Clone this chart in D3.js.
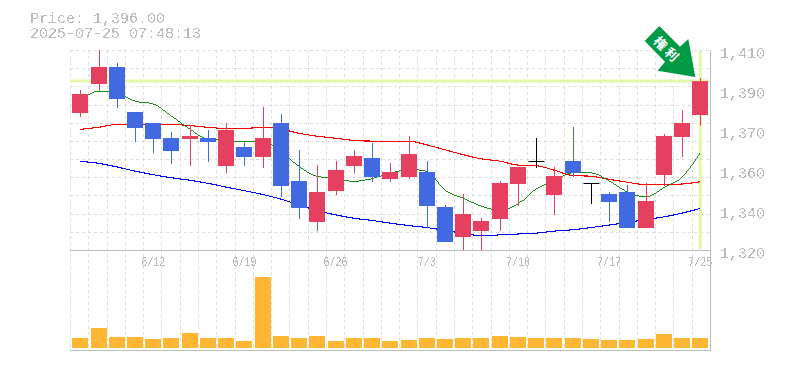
<!DOCTYPE html>
<html><head><meta charset="utf-8">
<script src="https://cdnjs.cloudflare.com/ajax/libs/d3/7.8.5/d3.min.js"></script>
<style>html,body{margin:0;padding:0;background:#fff}svg{display:block}text{font-family:"Liberation Mono",monospace}</style>
</head><body><svg id="c" width="785" height="370"></svg>
<script>
const priceText="Price: 1,396.00", timeText="2025-07-25 07:48:13";
const lastClose=1396;
const yTicks=[1320,1338,1356,1374,1392,1410];
const yTickLabels=["1,320","1,340","1,360","1,370","1,390","1,410"];
const dateIdx=[4,9,14,19,24,29,34];
const dateLabels=["6/12","6/19","6/26","7/3","7/10","7/17","7/25"];
const arrowChars=["権","利"];
const open=[1381.65,1394.7,1402.35,1382.1,1377.15,1370.4,1369.95,1370.4,1357.8,1366.35,1361.85,1377.15,1351.05,1332.6,1346.55,1357.8,1361.4,1351.95,1352.85,1355.1,1339.35,1325.85,1328.55,1333.95,1349.7,1360.05,1344.75,1360.05,1350.15,1345.2,1346.1,1329.9,1353.75,1370.85,1380.75];
const close=[1390.2,1402.35,1387.95,1374.9,1369.95,1364.55,1371.3,1368.6,1374,1361.85,1370.4,1348.8,1338.9,1346.1,1356,1362.3,1352.85,1355.1,1363.2,1339.8,1323.6,1336.2,1333.05,1350.15,1357.35,1360.05,1353.3,1354.65,1350.15,1341.6,1329.9,1342.05,1371.3,1377.15,1396];
const high=[1392,1410,1404.15,1382.1,1377.15,1373.1,1376.25,1374,1377.15,1368.6,1384.35,1381.2,1365,1358.25,1360.05,1365,1368.15,1359.15,1371.3,1360.05,1340.25,1345.2,1334.4,1351.05,1357.35,1370.4,1357.35,1375.35,1350.15,1346.1,1349.25,1350.15,1372.2,1383,1397.4];
const low=[1379.85,1391.55,1383.9,1368.6,1363.65,1358.7,1357.8,1359.6,1354.65,1357.8,1356.9,1343.85,1333.95,1328.55,1344.75,1354.65,1350.6,1350.6,1351.95,1329.9,1323.6,1320,1320,1328.55,1339.8,1356.9,1335.75,1352.85,1340.7,1332.6,1329.9,1329.9,1348.8,1361.85,1375.8];
const ma5=[1387,1391.5,1390.6,1387,1385.7,1380.3,1374.4,1369.9,1369.4,1368.6,1369,1364.1,1357.6,1353.1,1352.2,1350.9,1352.2,1354.5,1356.3,1355.4,1346.9,1343.3,1339.7,1337.9,1340.8,1347.5,1351.1,1354.7,1354.7,1351.1,1346.1,1343.9,1348,1352.9,1363.7];
const ma25=[1374.3,1375.2,1376.5,1376.5,1376.5,1376.5,1376,1375.2,1374.7,1374.7,1375.2,1374.4,1372.5,1371.2,1370.3,1369.3,1369,1369,1369,1367.3,1365.1,1362.9,1361,1360,1358.2,1357.9,1355.9,1353.5,1353.2,1351.8,1350.5,1349.4,1349.4,1349.7,1350.7];
const ma75=[1359.9,1359,1357.4,1355.5,1353.9,1352.5,1351.4,1350,1348.3,1346.7,1345,1342.9,1340.3,1337.7,1335.8,1334.3,1333.3,1332.1,1331,1330.1,1328.8,1327.5,1326.4,1326.8,1327.2,1327.6,1328.5,1329.1,1330.1,1331.2,1332.4,1333.7,1334.9,1336.6,1338.7];
const volume=[10,20,11,11,9,10,15,10,10,7,71,12,10,12,7,10,10,7,8,10,9,10,10,12,11,10,10,10,9,8,8,9,14,10,10];
const gridYCount=11, gridXCount=35;

const svg=d3.select("#c");
const x=d3.scalePoint().domain(d3.range(open.length)).range([80.3,700.3]);
const y=d3.scaleLinear().domain([1320,1410]).range([250,50]);
const yv=d3.scaleLinear().domain([0,100]).range([348,248]);
const gx=d3.scaleLinear().domain([0,gridXCount]).range([70,710]);

const f=svg.append("defs").append("filter").attr("id","crisp").attr("x","-5%").attr("y","-20%").attr("width","110%").attr("height","140%");
f.append("feComponentTransfer").append("feFuncA").attr("type","discrete").attr("tableValues","0 0 1 1");

const G=svg.append("g").attr("stroke","#ddd").attr("stroke-width",1).attr("stroke-dasharray","3,3").attr("fill","none");
d3.range(gridYCount).forEach(i=>{const yy=Math.round(50+i*200/gridYCount)+.5;
  G.append("line").attr("x1",70).attr("x2",710).attr("y1",yy).attr("y2",yy);});
d3.range(gridXCount).forEach(i=>{const xx=Math.round(gx(i))+.5;
  G.append("line").attr("x1",xx).attr("x2",xx).attr("y1",50).attr("y2",350);});

svg.append("line").attr("x1",70).attr("x2",709).attr("y1",y(lastClose)).attr("y2",y(lastClose)).attr("stroke","#e4f8a9").attr("stroke-width",3);
svg.append("line").attr("x1",x(34)).attr("x2",x(34)).attr("y1",y(1410)+1).attr("y2",y(1320)-1).attr("stroke","#e4f8a9").attr("stroke-width",3);

svg.append("g").selectAll("rect").data(volume).join("rect")
 .attr("x",(d,i)=>Math.round(x(i))-8).attr("width",16)
 .attr("y",d=>yv(d)).attr("height",d=>yv(0)-yv(d)).attr("fill","#ffb733");

const ln=d3.line().x((d,i)=>x(i)).y(d=>y(d)).curve(d3.curveMonotoneX);
[[ma75,"#0000ff",1.1],[ma25,"#ff0000",1.1],[ma5,"#008000",0.9]].forEach(([s,c,w])=>{
 svg.append("path").attr("d",ln(s)).attr("fill","none").attr("stroke",c).attr("stroke-width",w).attr("shape-rendering","crispEdges");});

const col=i=>close[i]>open[i]?"#e5405f":close[i]<open[i]?"#4169e1":"#000";
const cg=svg.append("g");
open.forEach((o,i)=>{
 const cx=Math.round(x(i));
 cg.append("line").attr("x1",cx+.5).attr("x2",cx+.5).attr("y1",y(high[i])).attr("y2",y(low[i])).attr("stroke",col(i)).attr("stroke-width",1);
 const t=Math.min(y(o),y(close[i])),h=Math.abs(y(o)-y(close[i]));
 if(h<.1) cg.append("line").attr("x1",cx-7.5).attr("x2",cx+8.5).attr("y1",Math.round(y(o))+.5).attr("y2",Math.round(y(o))+.5).attr("stroke","#000");
 else cg.append("rect").attr("x",cx-8).attr("y",t).attr("width",16).attr("height",h).attr("fill",col(i));
});

svg.append("line").attr("x1",70).attr("x2",711).attr("y1",250.5).attr("y2",250.5).attr("stroke","#bbb");
svg.append("line").attr("x1",70).attr("x2",711).attr("y1",350.5).attr("y2",350.5).attr("stroke","#bbb");
svg.append("line").attr("x1",710.5).attr("x2",710.5).attr("y1",50).attr("y2",351).attr("stroke","#bbb");

const T=svg.append("g").attr("fill","#bbb").attr("filter","url(#crisp)");
T.append("text").attr("x",30).attr("y",23).attr("font-size",15).text(priceText);
T.append("text").attr("x",30).attr("y",38).attr("font-size",15).text(timeText);
yTicks.forEach((v,i)=>T.append("text").attr("x",720).attr("y",y(v)+8).attr("font-size",15).text(yTickLabels[i]));
dateIdx.forEach((k,i)=>T.append("text").attr("x",x(k)).attr("y",266).attr("text-anchor","middle").attr("font-size",13)
  .attr("textLength",dateLabels[i].length*6).attr("lengthAdjust","spacingAndGlyphs").text(dateLabels[i]));

const A=svg.append("g");
A.append("polygon").attr("points","659.3,26 644.7,41 665,61.7 657.7,70.7 695.3,77 688.3,39 680,46.7").attr("fill","#009944");
const at=A.append("g").attr("transform","translate(666,49) rotate(45)").attr("fill","#fff");
arrowChars.forEach((c,i)=>at.append("text").attr("x",i?8:-8).attr("y",4.5).attr("text-anchor","middle").attr("font-size",13).attr("font-weight","bold").style("font-family","Noto Sans CJK JP").text(c));
</script></body></html>
